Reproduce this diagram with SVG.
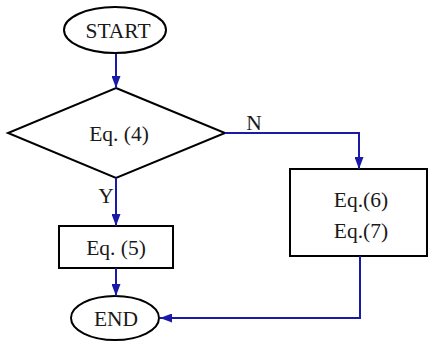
<svg xmlns="http://www.w3.org/2000/svg" width="428" height="344" viewBox="0 0 428 344">
<style>
.n{fill:#fff;stroke:#000;stroke-width:2}
.t{font-family:"Liberation Serif",serif;font-size:21.5px;fill:#1a1a1a;text-anchor:middle}
.c{fill:none;stroke:#1a1aa8;stroke-width:2}
</style>
<defs>
<marker id="a" viewBox="0 0 12 9" refX="12" refY="4.5" markerWidth="12" markerHeight="9" markerUnits="userSpaceOnUse" orient="auto">
<path d="M0,0L12,4.5L0,9Z" fill="#1a1aa8"/>
</marker>
</defs>
<rect width="428" height="344" fill="#fff"/>
<g id="start"><ellipse class="n" cx="115" cy="30" rx="51" ry="23"/><text class="t" x="118" y="37.5">START</text></g>
<g id="dec"><path class="n" d="M116,88L225,133L116,178L8,133Z"/><text class="t" x="119" y="140.5">Eq. (4)</text></g>
<g id="eq5"><rect class="n" x="59" y="226" width="114" height="42"/><text class="t" x="116" y="254.5">Eq. (5)</text></g>
<g id="eq67"><rect class="n" x="290" y="169" width="137" height="87"/><text class="t" x="361" y="206.5">Eq.(6)</text><text class="t" x="361" y="237.5">Eq.(7)</text></g>
<g id="end"><ellipse class="n" cx="115" cy="318" rx="44" ry="22"/><text class="t" x="116" y="325.5">END</text></g>
<g id="connectors">
<path class="c" d="M116,54V88" marker-end="url(#a)"/>
<path class="c" d="M225,133H359V169" marker-end="url(#a)"/>
<path class="c" d="M116,178V226" marker-end="url(#a)"/>
<path class="c" d="M116,268V296" marker-end="url(#a)"/>
<path class="c" d="M360,256V318H160" marker-end="url(#a)"/>
<text class="t" x="254" y="130">N</text>
<text class="t" x="106" y="203">Y</text>
</g>
</svg>
